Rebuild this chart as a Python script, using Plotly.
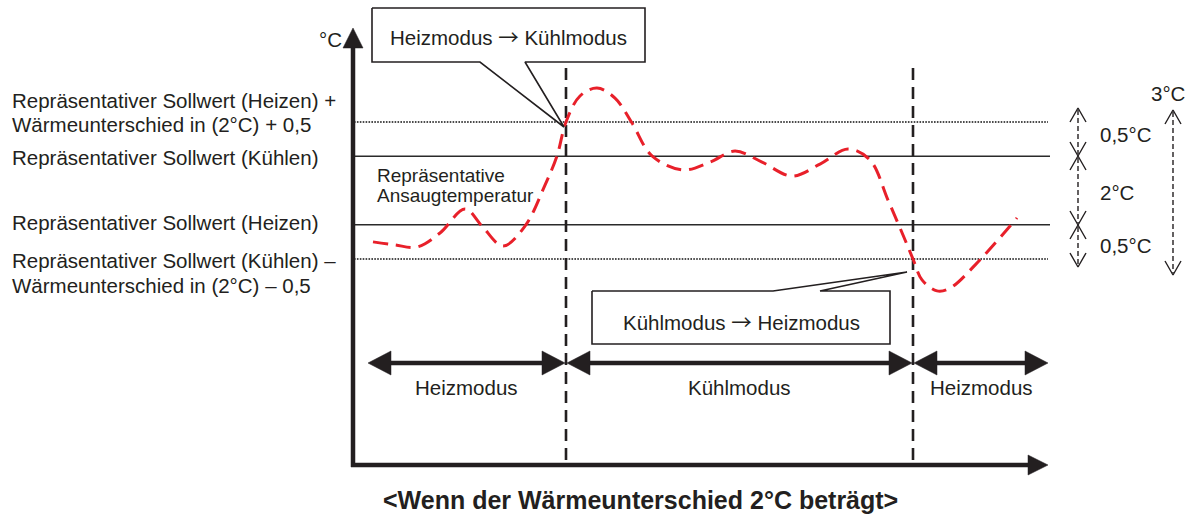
import plotly.graph_objects as go

# ---- data ---------------------------------------------------------------
# Time runs in schematic steps; temperature is given in set-point steps:
#   0 = Sollwert (Kühlen) − Differenz − 0,5
#   1 = Sollwert (Heizen)
#   3 = Sollwert (Kühlen)
#   4 = Sollwert (Heizen) + Differenz + 0,5
trace_time = [1.9, 4.1, 6.3, 8.6, 11.1, 12.8, 14.9, 17.1, 19.1, 20.3, 21.2,
              22.6, 24.3, 26.1, 27.8, 29.8, 32.9, 35.6, 38.1, 40.8, 43.8,
              46.6, 49.4, 51.6, 53.4, 54.9, 55.9, 56.8, 58.3, 59.6, 62.1, 66.3]
trace_level = [0.50, 0.41, 0.35, 0.76, 1.46, 0.96, 0.38, 0.96, 2.16, 3.01, 4.0,
               4.76, 4.99, 4.70, 3.97, 3.01, 2.60, 2.83, 3.15, 2.83, 2.42,
               2.77, 3.21, 2.89, 1.72, 0.70, 0.0, -0.61, -0.93, -0.85, -0.18, 1.20]

setpoint_levels = [4, 3, 1, 0]
setpoint_labels = [
    ["Repräsentativer Sollwert (Heizen) +", "Wärmeunterschied in (2°C) + 0,5"],
    ["Repräsentativer Sollwert (Kühlen)"],
    ["Repräsentativer Sollwert (Heizen)"],
    ["Repräsentativer Sollwert (Kühlen) –", "Wärmeunterschied in (2°C) – 0,5"],
]
switch_times = [21.2, 55.9]
switch_modes = [("Heizmodus", "Kühlmodus"), ("Kühlmodus", "Heizmodus")]
mode_labels = ["Heizmodus", "Kühlmodus", "Heizmodus"]
band_labels = ["0,5°C", "2°C", "0,5°C"]
span_label = "3°C"
trace_label = ["Repräsentative", "Ansaugtemperatur"]
unit_label = "°C"
title_text = "<Wenn der Wärmeunterschied 2°C beträgt>"

# ---- page geometry --------------------------------------------------------
W, H = 1187, 517
X0, SX = 354, 10.0      # pixel of t = 0, pixels per time step
Y0, SY = 259, 34.25     # pixel of level 0, pixels per level step
T_END = 69.4
INK = "#231f20"
FONT = "Liberation Sans, Arial, sans-serif"
ARROW = '<span style="font-family:Noto Sans CJK JP">\u2192</span>'


def X(px):
    return (px - X0) / SX


def Y(py):
    return (Y0 - py) / SY


def PX(t):
    return X0 + t * SX


def PY(lv):
    return Y0 - lv * SY


fig = go.Figure()


def path(xs, ys, width=1.0, color=INK, dash=None, fill=None, closed=False):
    xs = [X(v) for v in xs]
    ys = [Y(v) for v in ys]
    if closed:
        xs.append(xs[0])
        ys.append(ys[0])
    fig.add_trace(go.Scatter(
        x=xs, y=ys, mode="lines",
        line=dict(color=color, width=width, dash=dash),
        fill="toself" if fill else None, fillcolor=fill,
        hoverinfo="skip", showlegend=False))


def solid_head(tip, direction, length, half):
    tx, ty = tip
    dx, dy = direction
    bx, by = tx - dx * length, ty - dy * length
    px_, py_ = -dy, dx
    path([tx, bx + px_ * half, bx - px_ * half],
         [ty, by + py_ * half, by - py_ * half],
         width=0.5, fill=INK, closed=True)


def open_head(x, tip_y, up, length=14, half=8, width=1.4):
    s = 1 if up else -1
    path([x - half, x, x + half],
         [tip_y + s * length, tip_y, tip_y + s * length], width=width)


def text(px, py, s, size=20.5, anchor="center", bold=False):
    fig.add_annotation(
        x=X(px), y=Y(py), xref="x", yref="y", text=f"<b>{s}</b>" if bold else s,
        showarrow=False, xanchor=anchor, yanchor="middle",
        font=dict(family=FONT, size=size, color=INK))


# set-point reference lines
outer = (min(setpoint_levels), max(setpoint_levels))
for lv in setpoint_levels:
    if lv in outer:
        path([PX(0), PX(T_END)], [PY(lv), PY(lv)], width=1.3,
             color="#111111", dash="1.6px,1.3px")
    else:
        path([PX(0), PX(T_END) + 2], [PY(lv), PY(lv)], width=1.3,
             color="#2a2a2a")

# mode switch markers
AXIS_PY = 465
for ts in switch_times:
    path([PX(ts), PX(ts)], [68, AXIS_PY], width=2.6, dash="12px,7px")

# suction temperature trace
fig.add_trace(go.Scatter(
    x=trace_time, y=trace_level, mode="lines",
    line=dict(color="#e8202a", width=3, dash="15px,8px",
              shape="spline", smoothing=1.0),
    hoverinfo="skip", showlegend=False))

# axes
path([353, 353], [AXIS_PY + 2, 44], width=4.5)
solid_head((353, 28), (0, -1), 20, 10)
path([351, 1032], [AXIS_PY, AXIS_PY], width=4.5)
solid_head((1048, AXIS_PY), (1, 0), 20, 10)

# operating-mode spans
MODE_PY = 363
bounds = [1.4] + switch_times + [T_END]
for i in range(len(mode_labels)):
    a = PX(bounds[i]) + (1 if i > 0 else 0)
    b = PX(bounds[i + 1]) - (1 if i < len(mode_labels) - 1 else 0)
    path([a + 20, b - 20], [MODE_PY, MODE_PY], width=4.5)
    solid_head((a, MODE_PY), (-1, 0), 23, 12)
    solid_head((b, MODE_PY), (1, 0), 23, 12)
    text((a + b) / 2, 387, mode_labels[i])

# callouts at the switching points
callouts = [
    dict(box=(372, 8, 645, 62), base=(480, 525), tip=(PX(switch_times[0]) - 2, PY(4) + 5),
         side="bottom", center=(508, 36)),
    dict(box=(592, 291, 890, 344), base=(773, 820), tip=(PX(switch_times[1]) - 6, PY(0) + 13),
         side="top", center=(741, 321)),
]
for c, (m_from, m_to) in zip(callouts, switch_modes):
    x1, y1, x2, y2 = c["box"]
    b1, b2 = c["base"]
    tx, ty = c["tip"]
    if c["side"] == "bottom":
        xs = [x1, x2, x2, b2, tx, b1, x1]
        ys = [y1, y1, y2, y2, ty, y2, y2]
    else:
        xs = [x1, b1, tx, b2, x2, x2, x1]
        ys = [y1, y1, ty, y1, y1, y2, y2]
    path(xs, ys, width=1.6, fill="white", closed=True)
    text(c["center"][0], c["center"][1], f"{m_from} {ARROW} {m_to}")

# set-point labels on the left
label_rows = [[100, 124], [157], [222], [260, 285]]
for lines, rows in zip(setpoint_labels, label_rows):
    for s, py in zip(lines, rows):
        text(10, py, s, anchor="left")

text(375, 175, trace_label[0], size=19, anchor="left")
text(375, 195, trace_label[1], size=19, anchor="left")
text(330, 39, unit_label, size=20.5)

# band widths on the right
BX = 1078
marks = [108, 156, 225, 267]
for i in range(3):
    path([BX, BX], [marks[i] + 2, marks[i + 1] - 2], width=1.4, dash="5px,3px")
    open_head(BX, marks[i], up=True)
    open_head(BX, marks[i + 1], up=False)
for s, py in zip(band_labels, [134, 192, 245]):
    text(1098, py, s, anchor="left")

SXR = 1173
path([SXR, SXR], [112, 273], width=1.4, dash="5px,3px")
open_head(SXR, 110, up=True)
open_head(SXR, 275, up=False)
text(1168, 93, span_label)

# caption
text(640, 500, title_text, size=25, bold=True)

fig.update_layout(
    width=W, height=H, margin=dict(l=0, r=0, t=0, b=0),
    paper_bgcolor="white", plot_bgcolor="white",
    xaxis=dict(range=[X(0), X(W)], visible=False, fixedrange=True),
    yaxis=dict(range=[Y(H), Y(0)], visible=False, fixedrange=True),
    showlegend=False,
)

fig.write_html("out.html")
